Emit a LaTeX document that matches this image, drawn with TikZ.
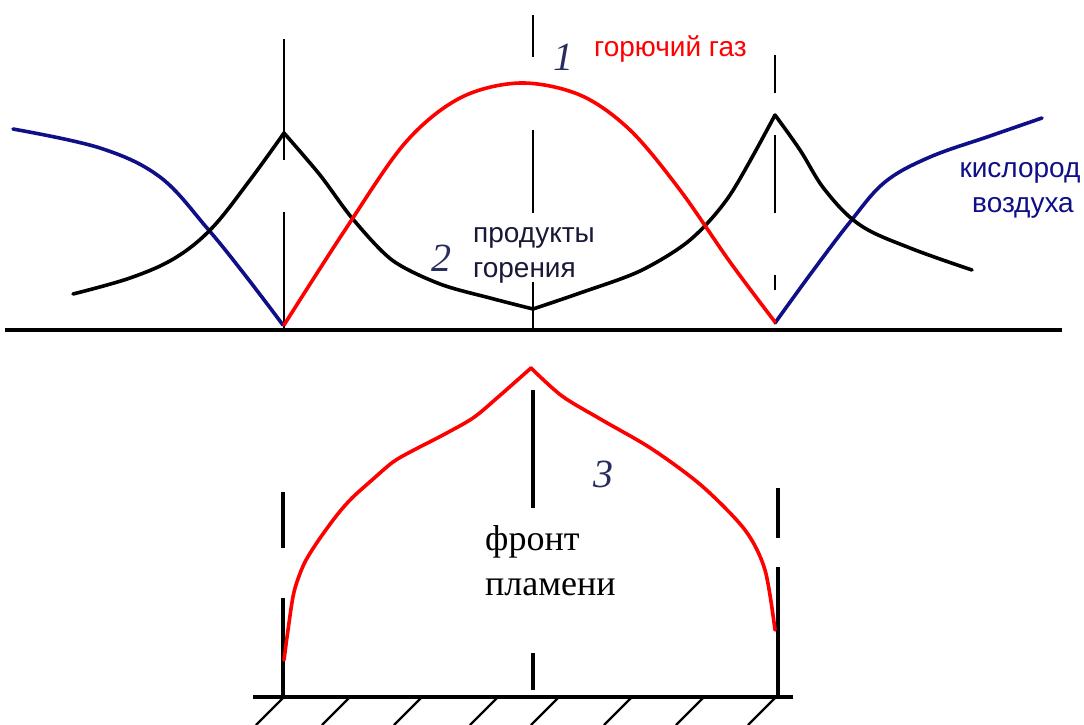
\documentclass[tikz,border=0pt]{standalone}
\usepackage{fontspec}
\newfontfamily\labsans{Liberation Sans}
\newfontfamily\labserif{Liberation Serif}
\definecolor{navyc}{RGB}{15,15,135}
\definecolor{numcol}{RGB}{40,45,95}
\definecolor{prodcol}{RGB}{25,25,55}
\begin{document}
\begin{tikzpicture}[x=1pt,y=-1pt,
  curve/.style={line width=3.6pt, line join=round, line cap=round},
  guide/.style={line width=1.6pt},
  guideb/.style={line width=3.4pt},
  axisline/.style={line width=3.8pt},
  hatchline/.style={line width=2.4pt},
  numlbl/.style={font=\labserif\itshape\fontsize{40}{40}\selectfont, text=numcol, inner sep=0pt},
  sanslbl/.style={font=\labsans\fontsize{28}{28}\selectfont, inner sep=0pt},
  seriflbl/.style={font=\labserif\fontsize{36}{36}\selectfont, inner sep=0pt}]
\fill[white] (0,0) rectangle (1084,724);
\useasboundingbox (0,0) rectangle (1084,724);

% ---------- upper diagram ----------
\draw[axisline] (5,330) -- (1062,330);

% guide lines (dashed verticals)
\draw[guide] (284,39) -- (284,160) (284,212) -- (284,330);
\draw[guide] (533,15) -- (533,57) (533,130) -- (533,213) (533,282) -- (533,330);
\draw[guide] (775,55) -- (775,93) (775,135) -- (775,213) (775,275) -- (775,290);

% blue: oxygen of air
\draw[curve, navyc] plot[smooth, tension=0.6] coordinates
  {(13,129) (100,148) (160,177) (207,228) (245,275) (283,325)};
\draw[curve, navyc] plot[smooth, tension=0.6] coordinates
  {(775,323) (812,272) (850,222) (885,182) (930,157) (990,136) (1042,118)};

% black: combustion products
\draw[curve, black] plot[smooth, tension=0.6] coordinates
  {(73,294) (130,278) (175,258) (212,228) (250,180) (284,133)};
\draw[curve, black] plot[smooth, tension=0.5] coordinates
  {(284,133) (320,175) (352,218) (392,260) (440,284) (490,298) (533,309)};
\draw[curve, black] plot[smooth, tension=0.5] coordinates
  {(533,309) (580,293) (640,271) (690,240) (730,195) (775,115)};
\draw[curve, black] plot[smooth, tension=0.6] coordinates
  {(775,115) (800,150) (825,190) (860,225) (910,248) (972,270)};

% red: combustible gas
\draw[curve, red] plot[smooth, tension=0.55] coordinates
  {(284,325) (345,230) (405,143) (460,98) (520,83) (580,95) (630,130) (680,190) (730,262) (775,322)};

% labels upper
\node[numlbl] (n1) at (563,57) {1};
\node[sanslbl, text=red, anchor=base west] (gas) at (594,56) {горючий газ};
\node[numlbl] (n2) at (441,258) {2};
\node[sanslbl, text=prodcol, anchor=base west] (prod1) at (473,242) {продукты};
\node[sanslbl, text=prodcol, anchor=base west] (prod2) at (473,277) {горения};
\node[sanslbl, text=navyc, anchor=base] (oxy1) at (1020,177) {кислород};
\node[sanslbl, text=navyc, anchor=base] (oxy2) at (1023,212) {воздуха};

% ---------- lower diagram ----------
\draw[guideb] (283,492) -- (283,548) (283,598) -- (283,697);
\draw[guideb] (533,390) -- (533,508) (533,653) -- (533,690);
\draw[guideb] (778,488) -- (778,538) (778,567) -- (778,697);

\draw[curve, red] plot[smooth, tension=0.5] coordinates
  {(284,660) (288,630) (294,592) (304,564) (318,541) (337,515) (352,498) (372,480) (393,462) (412,451) (443,435) (473,418) (497,398) (531,368)};
\draw[curve, red] plot[smooth, tension=0.5] coordinates
  {(531,368) (562,396) (602,420) (652,449) (702,486) (745,530) (765,570) (775,630)};

\draw[axisline] (253,697) -- (793,697);
\foreach \hx in {283,349,421,497,558,631,703,775}
  \draw[hatchline] (\hx,698) -- ({\hx-27},725);

\node[numlbl] (n3) at (603,474) {3};
\node[seriflbl, anchor=base west] (front1) at (485,550) {фронт};
\node[seriflbl, anchor=base west] (front2) at (485,595) {пламени};
\end{tikzpicture}
\end{document}
